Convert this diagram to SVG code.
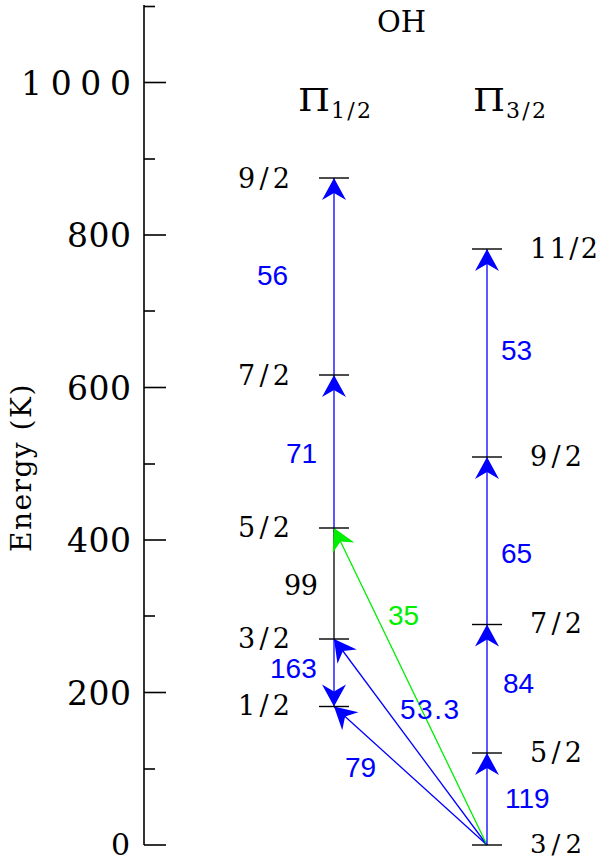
<svg xmlns="http://www.w3.org/2000/svg" width="600" height="863" viewBox="0 0 600 863">
<style>
.ax{stroke:#000;stroke-width:1.6;fill:none}
.lv{stroke:#000;stroke-width:1.4}
.b{stroke:#0000ff;stroke-width:1.3;fill:none}
.g{stroke:#00ee00;stroke-width:1.3;fill:none}
.k{stroke:#000;stroke-width:1.3;fill:none}
.serif{font-family:"DejaVu Serif","Liberation Serif",serif;fill:#000}
.tick{font-size:33px}
.lab{font-size:27px}
.num{font-family:"Liberation Sans",Arial,sans-serif;font-size:28px;fill:#0000ff}
.gnum{font-family:"Liberation Sans",Arial,sans-serif;font-size:28px;fill:#00ee00}
</style>
<defs>
<marker id="ab" viewBox="-23 -13 24 26" markerWidth="24" markerHeight="26" refX="0" refY="0" orient="auto" markerUnits="userSpaceOnUse" overflow="visible">
<path d="M0,0 L-22,-12 L-15,0 L-22,12 Z" fill="#0000ff"/>
</marker>
<marker id="ag" viewBox="-23 -13 24 26" markerWidth="24" markerHeight="26" refX="0" refY="0" orient="auto" markerUnits="userSpaceOnUse" overflow="visible">
<path d="M0,0 L-22,-12 L-15,0 L-22,12 Z" fill="#00ee00"/>
</marker>
</defs>

<g id="axis">
<line class="ax" x1="144" y1="5" x2="144" y2="845"/>
<line class="ax" x1="144" y1="845" x2="166" y2="845"/>
<line class="ax" x1="144" y1="769" x2="155" y2="769"/>
<line class="ax" x1="144" y1="692.5" x2="166" y2="692.5"/>
<line class="ax" x1="144" y1="616" x2="155" y2="616"/>
<line class="ax" x1="144" y1="540" x2="166" y2="540"/>
<line class="ax" x1="144" y1="464" x2="155" y2="464"/>
<line class="ax" x1="144" y1="387.5" x2="166" y2="387.5"/>
<line class="ax" x1="144" y1="311" x2="155" y2="311"/>
<line class="ax" x1="144" y1="235" x2="166" y2="235"/>
<line class="ax" x1="144" y1="159" x2="155" y2="159"/>
<line class="ax" x1="144" y1="82.5" x2="166" y2="82.5"/>
<line class="ax" x1="144" y1="6.5" x2="155" y2="6.5"/>
<text class="serif" font-size="30" x="111" y="855">0</text>
<text class="serif tick" x="67" y="704.5" textLength="64" lengthAdjust="spacing">200</text>
<text class="serif tick" x="67" y="552" textLength="64" lengthAdjust="spacing">400</text>
<text class="serif tick" x="67" y="399.5" textLength="64" lengthAdjust="spacing">600</text>
<text class="serif tick" x="67" y="247" textLength="64" lengthAdjust="spacing">800</text>
<text class="serif tick" x="21" y="94.5" textLength="110" lengthAdjust="spacing">1000</text>
<text class="serif" font-size="28" letter-spacing="1.5" transform="translate(31,552) rotate(-90)">Energy (K)</text>
</g>

<g id="title">
<text class="serif" font-size="29" x="377" y="32">OH</text>
<text class="serif" font-size="32" x="298" y="111" textLength="32" lengthAdjust="spacingAndGlyphs">Π</text>
<text class="serif" font-size="22" x="331" y="118" textLength="40" lengthAdjust="spacing">1/2</text>
<text class="serif" font-size="32" x="473" y="111" textLength="32" lengthAdjust="spacingAndGlyphs">Π</text>
<text class="serif" font-size="22" x="506" y="118" textLength="40" lengthAdjust="spacing">3/2</text>
</g>

<g id="connectors">
<line class="b" x1="334" y1="375" x2="334" y2="178" marker-end="url(#ab)"/>
<line class="b" x1="334" y1="528" x2="334" y2="375" marker-end="url(#ab)"/>
<line class="k" x1="334" y1="639" x2="334" y2="528"/>
<line class="b" x1="334" y1="639" x2="334" y2="706.5" marker-end="url(#ab)"/>
<line class="b" x1="487" y1="845" x2="334" y2="706.5" marker-end="url(#ab)"/>
<line class="b" x1="487" y1="845" x2="334" y2="639" marker-end="url(#ab)"/>
<line class="g" x1="487" y1="845" x2="334" y2="528" marker-end="url(#ag)"/>
<line class="b" x1="487" y1="845" x2="487" y2="753" marker-end="url(#ab)"/>
<line class="b" x1="487" y1="753" x2="487" y2="624.5" marker-end="url(#ab)"/>
<line class="b" x1="487" y1="624.5" x2="487" y2="457" marker-end="url(#ab)"/>
<line class="b" x1="487" y1="457" x2="487" y2="249" marker-end="url(#ab)"/>
</g>

<g id="pi12-9-2"><line class="lv" x1="319" y1="178" x2="349" y2="178"/><text class="serif lab" x="238" y="188" textLength="52" lengthAdjust="spacing">9/2</text></g>
<g id="pi12-7-2"><line class="lv" x1="319" y1="375" x2="349" y2="375"/><text class="serif lab" x="238" y="385" textLength="52" lengthAdjust="spacing">7/2</text></g>
<g id="pi12-5-2"><line class="lv" x1="319" y1="528" x2="349" y2="528"/><text class="serif lab" x="238" y="537" textLength="52" lengthAdjust="spacing">5/2</text></g>
<g id="pi12-3-2"><line class="lv" x1="319" y1="639" x2="349" y2="639"/><text class="serif lab" x="238" y="648" textLength="52" lengthAdjust="spacing">3/2</text></g>
<g id="pi12-1-2"><line class="lv" x1="319" y1="706.5" x2="349" y2="706.5"/><text class="serif lab" x="238" y="715" textLength="52" lengthAdjust="spacing">1/2</text></g>

<g id="pi32-11-2"><line class="lv" x1="472" y1="249" x2="502" y2="249"/><text class="serif lab" x="530" y="258" textLength="68" lengthAdjust="spacing">11/2</text></g>
<g id="pi32-9-2"><line class="lv" x1="472" y1="457" x2="502" y2="457"/><text class="serif lab" x="530" y="466" textLength="52" lengthAdjust="spacing">9/2</text></g>
<g id="pi32-7-2"><line class="lv" x1="472" y1="624.5" x2="502" y2="624.5"/><text class="serif lab" x="530" y="633" textLength="52" lengthAdjust="spacing">7/2</text></g>
<g id="pi32-5-2"><line class="lv" x1="472" y1="753" x2="502" y2="753"/><text class="serif lab" x="530" y="762" textLength="52" lengthAdjust="spacing">5/2</text></g>
<g id="pi32-3-2"><line class="lv" x1="472" y1="845" x2="502" y2="845"/><text class="serif" font-size="26" x="530" y="853" textLength="52" lengthAdjust="spacing">3/2</text></g>

<g id="labels">
<text class="num" x="257" y="285">56</text>
<text class="num" x="286" y="463">71</text>
<text class="serif lab" x="284" y="595" textLength="34" lengthAdjust="spacing">99</text>
<text class="num" x="270" y="678">163</text>
<text class="num" x="345" y="777">79</text>
<text class="num" x="400" y="719" textLength="59" lengthAdjust="spacing">53.3</text>
<text class="gnum" x="388" y="625">35</text>
<text class="num" x="501" y="360">53</text>
<text class="num" x="501" y="563">65</text>
<text class="num" x="503" y="693">84</text>
<text class="num" x="505" y="808">119</text>
</g>
</svg>
